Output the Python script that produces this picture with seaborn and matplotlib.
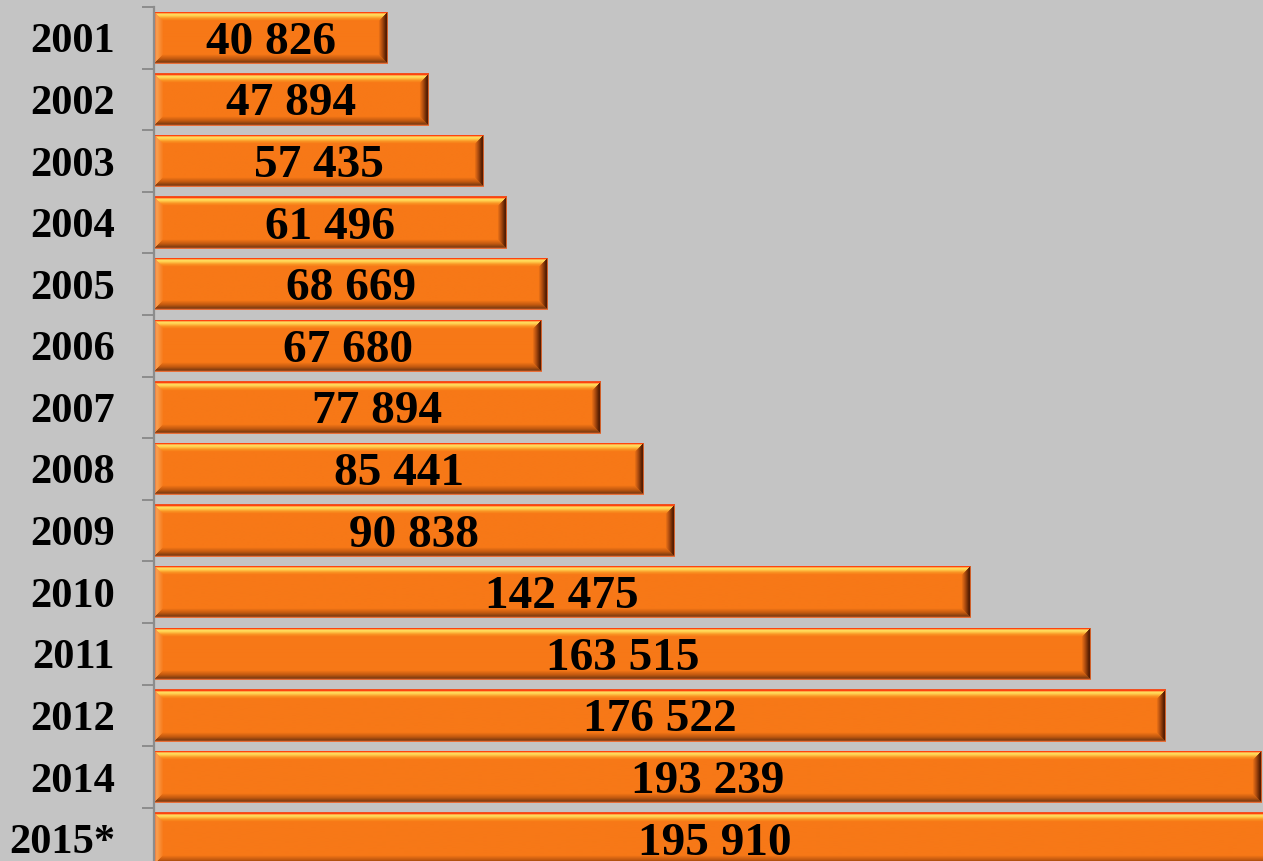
import numpy as np
import pandas as pd
import matplotlib
matplotlib.use("Agg")
import matplotlib.pyplot as plt
import seaborn as sns
from matplotlib.colors import to_rgba

# ---- data ----
years = ["2001", "2002", "2003", "2004", "2005", "2006", "2007", "2008",
         "2009", "2010", "2011", "2012", "2014", "2015*"]
values = [40826, 47894, 57435, 61496, 68669, 67680, 77894, 85441,
          90838, 142475, 163515, 176522, 193239, 195910]

BG = "#C4C4C4"
ORANGE = "#F77817"

sns.set_theme(style="white")
plt.rcParams['font.family'] = ['Liberation Serif', 'DejaVu Serif']

df = pd.DataFrame({"year": years, "value": values})

fig = plt.figure(figsize=(12.63, 8.61), dpi=100, facecolor=BG)
ax = fig.add_axes([154 / 1263, -8.4 / 861, 1109 / 1263, 862.4 / 861])
ax.set_facecolor(BG)

sns.barplot(data=df, x="value", y="year", orient="h", color=ORANGE,
            saturation=1, width=0.85, edgecolor="none", ax=ax)

XMAX = 193580
ax.set_xlim(0, XMAX)
ax.set_ylim(len(years) - 0.5, -0.5)


def ramp(stops, t):
    pos = [s[0] for s in stops]
    cols = np.array([to_rgba(s[1]) for s in stops])
    out = np.empty(t.shape + (4,))
    for c in range(4):
        out[..., c] = np.interp(t, pos, cols[:, c])
    return out


TOP = [(0, "#F05020"), (0.1, "#FF3A08"), (0.28, "#FFE264"), (0.45, "#FFD050"),
       (0.75, "#FA9222"), (1, ORANGE)]
BOTTOM = [(0, "#E8703A"), (0.15, "#7A3A10"), (0.5, "#C0580F"), (1, ORANGE)]
LEFT = [(0, "#F0703A"), (0.25, "#FAA050"), (1, ORANGE)]
RIGHT = [(0, "#D0602A"), (0.12, "#4A1800"), (0.6, "#B04E10"), (1, ORANGE)]


def bevel_image(hp, wp, b=9.0):
    i = np.arange(hp)[:, None] * np.ones((1, wp))
    j = np.ones((hp, 1)) * np.arange(wp)[None, :]
    d = np.stack([i, hp - 1 - i, j, wp - 1 - j])
    face = d.argmin(0)
    t = np.clip(d.min(0) / b, 0, 1)
    img = np.empty((hp, wp, 4))
    for k, stops in enumerate([TOP, BOTTOM, LEFT, RIGHT]):
        r = ramp(stops, t)
        m = face == k
        img[m] = r[m]
    return img


fig.canvas.draw()
o = ax.transData.transform((0, 0))
px_x = ax.transData.transform((1, 0))[0] - o[0]
px_y = abs(ax.transData.transform((0, 1))[1] - o[1])

for p in list(ax.patches):
    x0, y0 = p.get_x(), p.get_y()
    w, h = p.get_width(), p.get_height()
    wp = max(int(round(w * px_x)), 2)
    hp = max(int(round(h * px_y)), 2)
    img = bevel_image(hp, wp)
    im = ax.imshow(img, extent=[x0, x0 + w, y0 + h, y0], aspect="auto",
                   interpolation="bilinear", zorder=p.get_zorder() + 0.1)
    im.set_clip_path(p)

ax.set_xlim(0, XMAX)
ax.set_ylim(len(years) - 0.5, -0.5)

for i, v in enumerate(values):
    ax.text(v / 2, i + 0.08, f"{v:,}".replace(",", " "), ha="center", va="center",
            fontsize=34, fontweight="bold", color="black", zorder=10, clip_on=False)

# axes styling
for s in ["top", "right", "bottom"]:
    ax.spines[s].set_visible(False)
ax.spines["left"].set_color("#8C8C8C")
ax.spines["left"].set_linewidth(1.6)
ax.set_xticks([])
ax.set_xlabel("")
ax.set_ylabel("")
ax.set_yticks(np.arange(-0.5, len(years), 1), minor=True)
ax.tick_params(axis="y", which="minor", length=8.6, width=1.4, color="#8C8C8C", left=True)
ax.tick_params(axis="y", which="major", length=0, pad=28)
for lab in ax.get_yticklabels():
    lab.set_fontsize(30.5)
    lab.set_fontweight("bold")
    lab.set_color("black")

fig.savefig("out.png", dpi=100, facecolor=BG)
